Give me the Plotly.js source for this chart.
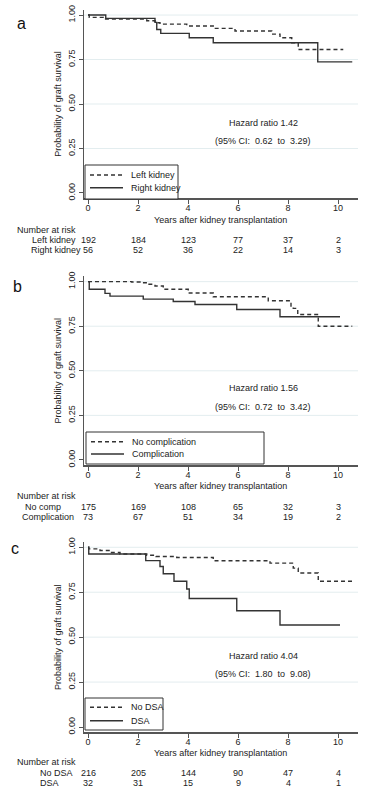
<!DOCTYPE html>
<html><head><meta charset="utf-8">
<script src="https://cdn.plot.ly/plotly-3.0.1.min.js"></script>
<style>html,body{margin:0;padding:0;background:#fff}</style>
</head><body><div id="chart" style="width:368px;height:800px"></div>
<script>
// ---------- data ----------
const riskTimes = [0, 2, 4, 6, 8, 10];
const xTicks = [0, 2, 4, 6, 8, 10];
const yTicks = [0, 0.25, 0.5, 0.75, 1.0];
const yTickText = ["0.00", "0.25", "0.50", "0.75", "1.00"];
const gridVals = [0.25, 0.5, 0.75, 1.0];

// Panel a: Left vs Right kidney
const aNames = ["Left kidney", "Right kidney"];
const aLeftT  = [0, 0.05, 0.61, 2.35, 2.68, 2.88, 3.95, 5.01, 5.88, 7.35, 7.68, 8.15, 8.41, 10.21];
const aLeftS  = [1, 0.987, 0.977, 0.968, 0.957, 0.949, 0.938, 0.925, 0.91, 0.893, 0.872, 0.844, 0.806, 0.806];
const aRightT = [0, 0.71, 2.68, 2.75, 2.91, 4.05, 5.01, 9.19, 10.57];
const aRightS = [1, 0.981, 0.959, 0.919, 0.897, 0.872, 0.844, 0.737, 0.737];
const aRiskLeft  = [192, 184, 123, 77, 37, 2];
const aRiskRight = [56, 52, 36, 22, 14, 3];
const aRiskLabels = ["Left kidney", "Right kidney"];
const aHR = "Hazard ratio 1.42";
const aCI = "(95% CI:\u00a0 0.62\u00a0 to\u00a0 3.29)";

// Panel b: No complication vs Complication
const bNames = ["No complication", "Complication"];
const bNoT = [0, 1.75, 2.08, 2.41, 2.68, 3.01, 4.01, 5.01, 7.21, 8.12, 8.21, 8.39, 9.21, 10.57];
const bNoS = [1, 0.998, 0.994, 0.985, 0.976, 0.957, 0.936, 0.915, 0.893, 0.859, 0.85, 0.816, 0.75, 0.75];
const bCompT = [0, 0.05, 0.68, 0.88, 2.21, 3.41, 4.28, 5.95, 7.68, 10.08];
const bCompS = [1, 0.957, 0.934, 0.919, 0.902, 0.889, 0.872, 0.844, 0.803, 0.803];
const bRiskNo   = [175, 169, 108, 65, 32, 3];
const bRiskComp = [73, 67, 51, 34, 19, 2];
const bRiskLabels = ["No comp", "Complication"];
const bHR = "Hazard ratio 1.56";
const bCI = "(95% CI:\u00a0 0.72\u00a0 to\u00a0 3.42)";

// Panel c: No DSA vs DSA
const cNames = ["No DSA", "DSA"];
const cNoT = [0, 0.03, 0.48, 0.88, 1.28, 2.35, 2.72, 3.55, 5.01, 7.28, 8.21, 8.41, 9.21, 10.57];
const cNoS = [1, 0.991, 0.982, 0.971, 0.963, 0.956, 0.949, 0.943, 0.925, 0.912, 0.884, 0.857, 0.811, 0.811];
const cDsaT = [0, 0.03, 2.31, 2.88, 3.01, 3.44, 3.95, 4.05, 5.95, 7.68, 10.08];
const cDsaS = [1, 0.963, 0.926, 0.893, 0.853, 0.811, 0.768, 0.715, 0.647, 0.568, 0.568];
const cRiskNo  = [216, 205, 144, 90, 47, 4];
const cRiskDsa = [32, 31, 15, 9, 4, 1];
const cRiskLabels = ["No DSA", "DSA"];
const cHR = "Hazard ratio 4.04";
const cCI = "(95% CI:\u00a0 1.80\u00a0 to\u00a0 9.08)";

// ---------- layout helpers ----------
const W = 368, H = 800;
const P = x => x / W;
const Q = y => 1 - y / H;
const FONT = "Liberation Sans, Arial, sans-serif";
const TXT = "#222";
const LINEC = "#333";
const AXC = "#555";
const DASH = "4px,3px";

const panels = [
  { letter: "a", names: aNames, t: [aLeftT, aRightT], s: [aLeftS, aRightS], risk: [aRiskLeft, aRiskRight],
    riskLabels: aRiskLabels, riskLabelX: [30, 29], hr: aHR, ci: aCI,
    dom: [198.3, 9.7], letterPos: [21, 23.5], hrY: 123.3, ciY: 141, xTitleY: 220,
    riskHeadY: 229.8, riskY: [240, 250],
    legBox: [85, 165, 178, 199], legY: [175, 187.7] },
  { letter: "b", names: bNames, t: [bNoT, bCompT], s: [bNoS, bCompS], risk: [bRiskNo, bRiskComp],
    riskLabels: bRiskLabels, riskLabelX: [23, 20], hr: bHR, ci: bCI,
    dom: [465.3, 276.3], letterPos: [17, 286.5], hrY: 388.3, ciY: 407.3, xTitleY: 486,
    riskHeadY: 496.2, riskY: [507.3, 517.3],
    legBox: [86, 432, 264, 464], legY: [441.7, 454] },
  { letter: "c", names: cNames, t: [cNoT, cDsaT], s: [cNoS, cDsaS], risk: [cRiskNo, cRiskDsa],
    riskLabels: cRiskLabels, riskLabelX: [38, 38], hr: cHR, ci: cCI,
    dom: [732.4, 541.9], letterPos: [15, 548], hrY: 655.7, ciY: 674, xTitleY: 752.5,
    riskHeadY: 762.2, riskY: [772.7, 783.3],
    legBox: [85, 698, 163, 730], legY: [707.3, 720.7] }
];

const data = [];
const shapes = [];
const annotations = [];
const layout = {
  width: W, height: H,
  margin: { l: 0, r: 0, t: 0, b: 0 },
  paper_bgcolor: "#fff", plot_bgcolor: "#fff",
  showlegend: false,
  font: { family: FONT, size: 9, color: TXT }
};

panels.forEach((p, i) => {
  const n = i === 0 ? "" : String(i + 1);
  const xa = "x" + n, ya = "y" + n;
  const dashes = [DASH, "solid"];
  for (let k = 0; k < 2; k++) {
    data.push({
      type: "scatter", mode: "lines", x: p.t[k], y: p.s[k], name: p.names[k],
      xaxis: xa, yaxis: ya, line: { shape: "hv", color: LINEC, width: 1.4, dash: dashes[k] },
      hoverinfo: "skip"
    });
  }
  layout["xaxis" + n] = {
    domain: [P(84), P(358)], range: [-0.16, 10.8], anchor: ya,
    tickvals: xTicks, ticks: "outside", ticklen: 4, tickwidth: 1, tickcolor: AXC,
    ticklabelstandoff: -3,
    showline: true, linecolor: AXC, linewidth: 1.2, showgrid: false, zeroline: false,
    tickfont: { family: FONT, size: 9, color: TXT }, fixedrange: true
  };
  layout["yaxis" + n] = {
    domain: [Q(p.dom[0]), Q(p.dom[1])], range: [-0.03, 1.03], anchor: xa,
    tickvals: yTicks, ticktext: yTickText, tickangle: -90,
    ticks: "outside", ticklen: 4, tickwidth: 1, tickcolor: AXC,
    showline: true, linecolor: AXC, linewidth: 1.2, showgrid: false, zeroline: false,
    tickfont: { family: FONT, size: 9, color: TXT }, fixedrange: true,
    title: { text: "Probability of graft survival", font: { family: FONT, size: 9, color: TXT }, standoff: 4 }
  };
  // gridlines
  gridVals.forEach(v => shapes.push({
    type: "line", layer: "below", xref: xa + " domain", yref: ya, x0: 0, x1: 1, y0: v, y1: v,
    line: { color: "#e3edef", width: 1 }
  }));
  // legend box
  const lb = p.legBox;
  shapes.push({ type: "rect", xref: "paper", yref: "paper", x0: P(lb[0]), x1: P(lb[2]), y0: Q(lb[3]), y1: Q(lb[1]),
    line: { color: LINEC, width: 1 }, fillcolor: "#fff", layer: "above" });
  for (let k = 0; k < 2; k++) {
    shapes.push({ type: "line", xref: "paper", yref: "paper", x0: P(lb[0] + 5), x1: P(lb[0] + 38),
      y0: Q(p.legY[k]), y1: Q(p.legY[k]), line: { color: LINEC, width: 1.4, dash: dashes[k] } });
    annotations.push({ xref: "paper", yref: "paper", x: P(lb[0] + 44), y: Q(p.legY[k]),
      xanchor: "left", yanchor: "middle", showarrow: false, text: p.names[k],
      font: { family: FONT, size: 9, color: TXT } });
  }
  // panel letter
  annotations.push({ xref: "paper", yref: "paper", x: P(p.letterPos[0]), y: Q(p.letterPos[1]),
    xanchor: "center", yanchor: "middle", showarrow: false, text: p.letter,
    font: { family: FONT, size: 16, color: "#111" } });
  // hazard ratio
  annotations.push({ xref: "paper", yref: "paper", x: P(263), y: Q(p.hrY), xanchor: "center", yanchor: "middle",
    showarrow: false, text: p.hr, font: { family: FONT, size: 9, color: TXT } });
  annotations.push({ xref: "paper", yref: "paper", x: P(263), y: Q(p.ciY), xanchor: "center", yanchor: "middle",
    showarrow: false, text: p.ci, font: { family: FONT, size: 9, color: TXT } });
  // x title
  annotations.push({ xref: "paper", yref: "paper", x: P(221), y: Q(p.xTitleY), xanchor: "center", yanchor: "middle",
    showarrow: false, text: "Years after kidney transplantation", font: { family: FONT, size: 9, color: TXT } });
  // number at risk
  annotations.push({ xref: "paper", yref: "paper", x: P(15), y: Q(p.riskHeadY), xanchor: "left", yanchor: "middle",
    showarrow: false, text: "Number at risk", font: { family: FONT, size: 9, color: TXT } });
  for (let k = 0; k < 2; k++) {
    annotations.push({ xref: "paper", yref: "paper", x: P(p.riskLabelX[k]), y: Q(p.riskY[k]), xanchor: "left", yanchor: "middle",
      showarrow: false, text: p.riskLabels[k], font: { family: FONT, size: 9, color: TXT } });
    riskTimes.forEach((t, j) => annotations.push({ xref: xa, yref: "paper", x: t, y: Q(p.riskY[k]),
      xanchor: "center", yanchor: "middle", showarrow: false, text: String(p.risk[k][j]),
      font: { family: FONT, size: 9, color: TXT } }));
  }
});

layout.shapes = shapes;
layout.annotations = annotations;
Plotly.newPlot("chart", data, layout, { staticPlot: true, displayModeBar: false });
</script>
</body></html>
